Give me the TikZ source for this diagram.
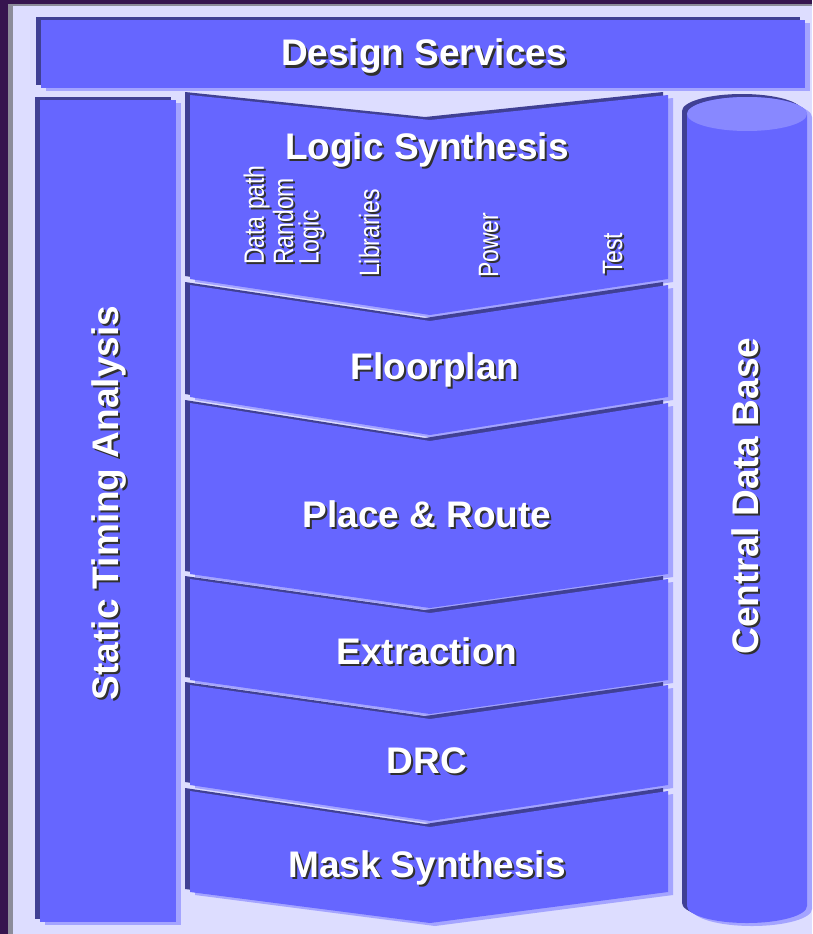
\documentclass[tikz,border=0pt]{standalone}
\usepackage{fontspec}
\setmainfont{Liberation Sans}
\newfontfamily\narrowsans[FakeStretch=0.82]{Liberation Sans}
\definecolor{framedark}{HTML}{36154F}
\definecolor{framegray}{HTML}{8C8C9A}
\definecolor{paper}{HTML}{DDDDFF}
\definecolor{face}{HTML}{6666FF}
\definecolor{edgedark}{HTML}{404094}
\definecolor{edgelight}{HTML}{A4A4FF}
\definecolor{topface}{HTML}{8888FF}
\definecolor{textshade}{HTML}{303030}
\newcommand{\shadowed}[2][2pt]{\makebox[0pt][l]{\kern#1\raisebox{-2pt}{\color{textshade}#2}}#2}
\newcommand{\bevel}[1]{%
	\fill[edgedark,shift={(-5,-3)}] #1;
	\fill[edgelight,shift={(5,3)}] #1;
	\fill[face] #1;}

\begin{document}
\begin{tikzpicture}[
			x=1pt, y=1pt, yscale=-1,
			stage/.style={text=white, font=\bfseries\fontsize{37}{40}\selectfont, inner sep=0pt, anchor=base},
			tag/.style={text=white, font=\narrowsans\fontsize{28}{25.5}\selectfont, inner sep=0pt, rotate=90, anchor=base west, align=left}
		]
		\useasboundingbox (0,0) rectangle (812,934);
		\fill[framedark] (0,0) rectangle (812,934);
		\fill[framegray] (8,4) rectangle (812,934);
		\fill[paper] (13,6) rectangle (812,934);
		\bevel{(41,20) rectangle (805,88)}
		\bevel{(40,100) rectangle (176,922)}
		\foreach \t/\b/\tn/\bn in {95/279/25/36, 285/397/36/38, 403/574/38/34, 579/680/34/34, 685/785/34/36, 791/892/36/31}{
			\bevel{(190,\t) -- (430,\t+\tn) -- (668,\t) -- (668,\b) -- (430,\b+\bn) -- (190,\b) -- cycle}
		}
		\bevel{(687,114) -- (687,906) arc (180:0:60 and 17) -- (807,114) arc (0:-180:60 and 17) -- cycle}
		\fill[topface] (747,114) ellipse (60 and 17);
		\node[stage] (design) at (424,66) {\shadowed{Design Services}};
		\node[stage] (logic) at (427,159) {\shadowed{Logic Synthesis}};
		\node[stage] (floor) at (435,379) {\shadowed{Floorplan}};
		\node[stage] (route) at (427,527) {\shadowed{Place \& Route}};
		\node[stage] (extract) at (427,664) {\shadowed{Extraction}};
		\node[stage] (drc) at (427,773) {\shadowed{DRC}};
		\node[stage] (mask) at (427,877) {\shadowed{Mask Synthesis}};
		\node[stage, rotate=90] (timing) at (118,503) {\shadowed[-2pt]{Static Timing Analysis}};
		\node[stage, rotate=90] (database) at (758,496) {\shadowed[-2pt]{Central Data Base}};
		\node[tag, anchor=west] (datapath) at (285,265) {\shadowed[-2pt]{Data path}\\\shadowed[-2pt]{Random}\\\shadowed[-2pt]{Logic}};
		\node[tag] (libs) at (379,277) {\shadowed[-2pt]{Libraries}};
		\node[tag] (power) at (498,278) {\shadowed[-2pt]{Power}};
		\node[tag] (test) at (622,275) {\shadowed[-2pt]{Test}};
	\end{tikzpicture}
\end{document}
